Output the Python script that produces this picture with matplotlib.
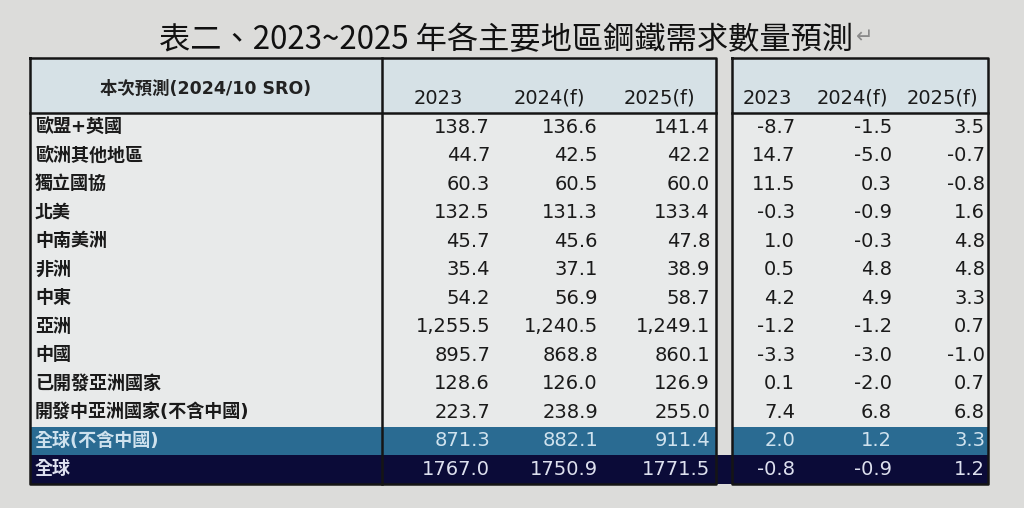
import matplotlib
matplotlib.use("Agg")
import matplotlib.pyplot as plt
from matplotlib.patches import Rectangle

plt.rcParams['font.family'] = ['DejaVu Sans', 'Noto Sans CJK TC']

title = "表二、2023~2025 年各主要地區鋼鐵需求數量預測"
return_mark = "↵"
corner_label = "本次預測(2024/10 SRO)"
year_labels = ["2023", "2024(f)", "2025(f)"]

regions = ["歐盟+英國", "歐洲其他地區", "獨立國協", "北美", "中南美洲", "非洲", "中東",
           "亞洲", "中國", "已開發亞洲國家", "開發中亞洲國家(不含中國)",
           "全球(不含中國)", "全球"]

# steel demand, million tonnes
demand_2023 = [138.7, 44.7, 60.3, 132.5, 45.7, 35.4, 54.2, 1255.5, 895.7, 128.6, 223.7, 871.3, 1767.0]
demand_2024 = [136.6, 42.5, 60.5, 131.3, 45.6, 37.1, 56.9, 1240.5, 868.8, 126.0, 238.9, 882.1, 1750.9]
demand_2025 = [141.4, 42.2, 60.0, 133.4, 47.8, 38.9, 58.7, 1249.1, 860.1, 126.9, 255.0, 911.4, 1771.5]

# growth rate, %
growth_2023 = [-8.7, 14.7, 11.5, -0.3, 1.0, 0.5, 4.2, -1.2, -3.3, 0.1, 7.4, 2.0, -0.8]
growth_2024 = [-1.5, -5.0, 0.3, -0.9, -0.3, 4.8, 4.9, -1.2, -3.0, -2.0, 6.8, 1.2, -0.9]
growth_2025 = [3.5, -0.7, -0.8, 1.6, 4.8, 4.8, 3.3, 0.7, -1.0, 0.7, 6.8, 3.3, 1.2]

# layout in pixels
W, H = 1024, 508
top, head_bot, row_h = 58, 113, 28.5
left_x0, label_x1, left_x1 = 30, 382, 716
right_x0, right_x1 = 732, 988
left_num_x = [490, 598, 710]
right_num_x = [795, 892, 985]
left_head_x = [463, 585, 695]
right_head_x = [792, 888, 978]

bg = "#dcdcda"
body_col = "#e8eaea"
head_col = "#d6e1e6"
blue_row = "#2a6b92"
navy_row = "#0b0b38"

fig = plt.figure(figsize=(W / 100, H / 100), dpi=100, facecolor=bg)
ax = fig.add_axes([0, 0, 1, 1])
ax.set_xlim(0, W)
ax.set_ylim(H, 0)
ax.axis("off")

n = len(regions)
bottom = head_bot + row_h * n

# blocks
for x0, x1 in [(left_x0, left_x1), (right_x0, right_x1)]:
    ax.add_patch(Rectangle((x0, top), x1 - x0, head_bot - top, fc=head_col, ec="none"))
    ax.add_patch(Rectangle((x0, head_bot), x1 - x0, bottom - head_bot, fc=body_col, ec="none"))
    # highlighted row
    ax.add_patch(Rectangle((x0, head_bot + row_h * (n - 2)), x1 - x0, row_h, fc=blue_row, ec="none"))

# navy total row runs across the gap
ax.add_patch(Rectangle((left_x0, head_bot + row_h * (n - 1)), right_x1 - left_x0, row_h,
                       fc=navy_row, ec="none"))

# borders
lw = 1.8
for x0, x1 in [(left_x0, left_x1), (right_x0, right_x1)]:
    ax.plot([x0, x1, x1, x0, x0], [top, top, bottom, bottom, top], color="#151515", lw=lw)
    ax.plot([x0, x1], [head_bot, head_bot], color="#151515", lw=lw)
ax.plot([label_x1, label_x1], [top, bottom], color="#151515", lw=lw)

# title
ax.text(506, 40, title, ha="center", va="center", fontsize=22.5,
        family=["Noto Sans CJK TC", "DejaVu Sans"], color="#111111")
ax.text(856, 37, return_mark, ha="left", va="center", fontsize=15, color="#8a8a8a")

# header
ax.text((left_x0 + label_x1) / 2, 89, corner_label, ha="center", va="center",
        fontsize=12.5, weight="bold", color="#222222")
for i, lab in enumerate(year_labels):
    ax.text(left_head_x[i], 98, lab, ha="right", va="center", fontsize=14, color="#1a1a1a")
    ax.text(right_head_x[i], 98, lab, ha="right", va="center", fontsize=14, color="#1a1a1a")

# body
demand = [demand_2023, demand_2024, demand_2025]
growth = [growth_2023, growth_2024, growth_2025]
for r, name in enumerate(regions):
    y = head_bot + row_h * (r + 0.5)
    if r == n - 2:
        tc = "#cfe2ee"
    elif r == n - 1:
        tc = "#dde0ee"
    else:
        tc = "#1a1a1a"
    ax.text(35, y, name, ha="left", va="center", fontsize=13, weight="bold", color=tc)
    fmt = "{:.1f}" if name == "全球" else "{:,.1f}"
    for c in range(3):
        ax.text(left_num_x[c], y, fmt.format(demand[c][r]), ha="right", va="center",
                fontsize=14, color=tc)
        ax.text(right_num_x[c], y, "{:.1f}".format(growth[c][r]), ha="right", va="center",
                fontsize=14, color=tc)

fig.savefig("out.png", dpi=100, facecolor=bg)
